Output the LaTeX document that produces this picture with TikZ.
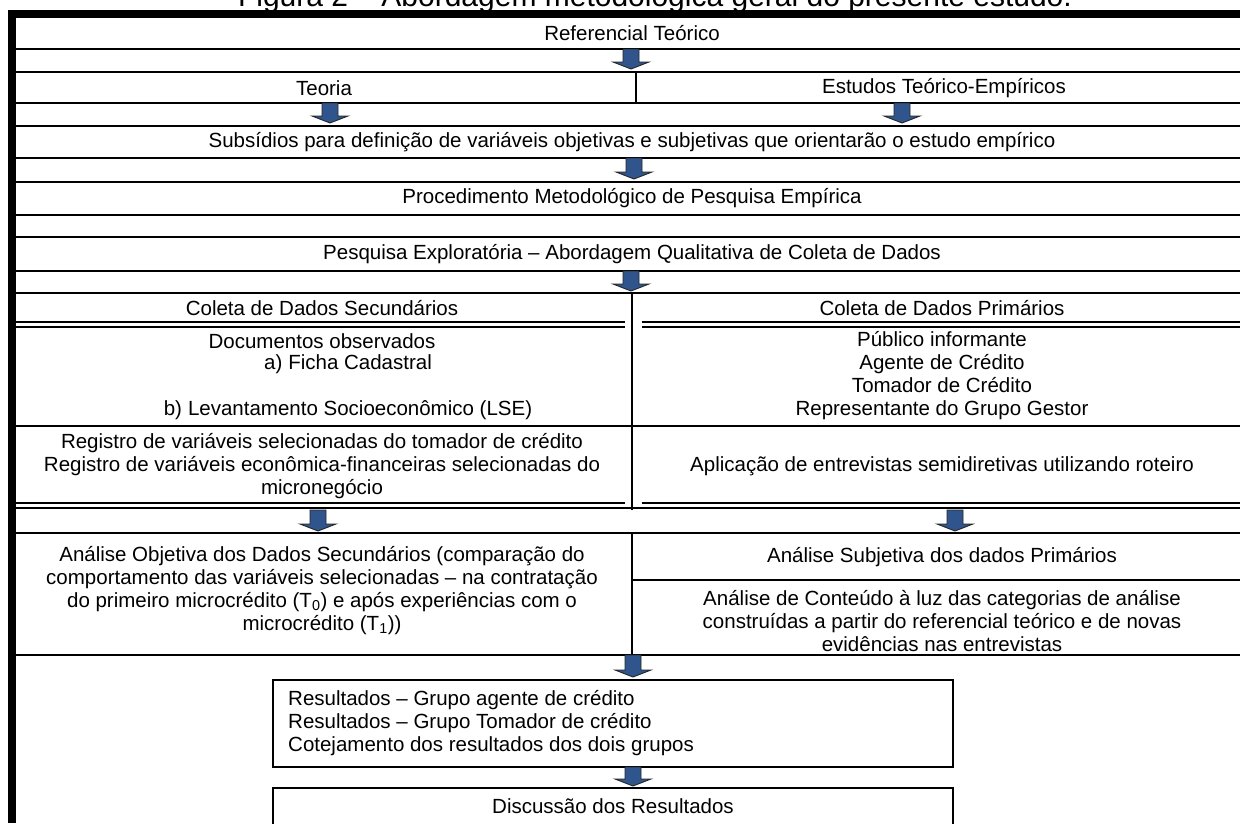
\documentclass[tikz,border=0pt]{standalone}
\usepackage{fontspec}
\setmainfont{Liberation Sans}
\usetikzlibrary{calc}
\definecolor{arrowblue}{RGB}{47,85,140}
\tikzset{
    txt/.style={inner sep=0pt, align=center, font=\fontsize{20.5}{23}\selectfont},
    rule/.style={draw=black, line width=1.6pt},
    frame/.style={draw=black, line width=8pt},
    resbox/.style={draw=black, line width=1.8pt},
    blockarrow/.style={draw=black!85, fill=arrowblue, line width=0.9pt,
        to path={let \p1=(\tikztostart), \p2=(\tikztotarget) in
            (\x1-8pt,\y1) -- (\x1+8pt,\y1) -- (\x1+8pt,\y2+7pt) -- (\x1+18pt,\y2+7pt)
            -- (\x1,\y2) -- (\x1-18pt,\y2+7pt) -- (\x1-8pt,\y2+7pt) -- cycle}}
}

\begin{document}
\begin{tikzpicture}[x=1pt, y=-1pt]
\useasboundingbox (0,0) rectangle (1240,823);

% title, cut off at the top
\node[anchor=base, inner sep=0pt, font=\fontsize{30}{36}\selectfont] (title) at (655,6)
  {Figura 2 – Abordagem metodológica geral do presente estudo.};

% outer frame
\draw[frame] (12,14) -- (1240,14);
\draw[frame] (12,10) -- (12,823);

% row lines
\foreach \y in {49,72,103,126,158,182,215,237,271,293,426,533,655}
  \draw[rule] (12,\y) -- (1240,\y);
\draw[rule] (636,72) -- (636,103);
\draw[rule] (632,293) -- (632,510);
\draw[rule] (632,533) -- (632,655);
\draw[rule] (632,580) -- (1240,580);
% double lines
\draw[draw=black, line width=2.2pt] (12,322) -- (625,322) (642,322) -- (1240,322);
\draw[draw=black, line width=1.1pt] (12,327) -- (625,327) (642,327) -- (1240,327);
\draw[draw=black, line width=1.1pt] (12,503) -- (625,503) (642,503) -- (1240,503);
\draw[draw=black, line width=2.2pt] (12,508) -- (1240,508);

% texts
\node[txt] (ref) at (632,33) {Referencial Teórico};
\node[txt] (teoria) at (324,88) {Teoria};
\node[txt] (estudos) at (944,88) {Estudos Teórico-Empíricos};
\node[txt] (subs) at (632,142) {Subsídios para definição de variáveis objetivas e subjetivas que orientarão o estudo empírico};
\node[txt] (proc) at (632,198) {Procedimento Metodológico de Pesquisa Empírica};
\node[txt] (pesq) at (632,254) {Pesquisa Exploratória – Abordagem Qualitativa de Coleta de Dados};
\node[txt] (colsec) at (322,308) {Coleta de Dados Secundários};
\node[txt] (colprim) at (942,308) {Coleta de Dados Primários};
\node[txt] (docs) at (322,341.5) {Documentos observados};
\node[txt] (ficha) at (348,364.5) {a)\hspace{6pt}Ficha Cadastral};
\node[txt] (lse) at (348,410.5) {b)\hspace{6pt}Levantamento Socioeconômico (LSE)};
\node[txt] (publico) at (942,376) {Público informante\\Agente de Crédito\\Tomador de Crédito\\Representante do Grupo Gestor};
\node[txt] (registro) at (322,466) {Registro de variáveis selecionadas do tomador de crédito\\Registro de variáveis econômica-financeiras selecionadas do\\micronegócio};
\node[txt] (aplic) at (942,466) {Aplicação de entrevistas semidiretivas utilizando roteiro};
\node[txt] (objetiva) at (322,590.5) {Análise Objetiva dos Dados Secundários (comparação do\\comportamento das variáveis selecionadas – na contratação\\do primeiro microcrédito (T\textsubscript{0}) e após experiências com o\\microcrédito (T\textsubscript{1}))};
\node[txt] (subj) at (942,557) {Análise Subjetiva dos dados Primários};
\node[txt] (conteudo) at (942,621) {Análise de Conteúdo à luz das categorias de análise\\construídas a partir do referencial teórico e de novas\\evidências nas entrevistas};

% result boxes
\draw[resbox] (273,680) rectangle (953,767);
\draw[resbox] (273,788) rectangle (953,850);
\node[txt, anchor=west, align=left] (result) at (288,723.5) {Resultados – Grupo agente de crédito\\Resultados – Grupo Tomador de crédito\\Cotejamento dos resultados dos dois grupos};
\node[txt] (disc) at (613,806) {Discussão dos Resultados};

% block arrows
\foreach \k/\ax/\ya/\yb in {1/631/49/69, 2/330/103/123, 3/902/103/123, 4/634/158/179,
    5/631/271/291, 6/318/510/531, 7/955/510/531, 8/633/655/677, 9/633/767/786}{
  \coordinate (arr\k s) at (\ax,\ya);
  \coordinate (arr\k e) at (\ax,\yb);
  \draw[blockarrow] (arr\k s) to (arr\k e);
}
\end{tikzpicture}
\end{document}
